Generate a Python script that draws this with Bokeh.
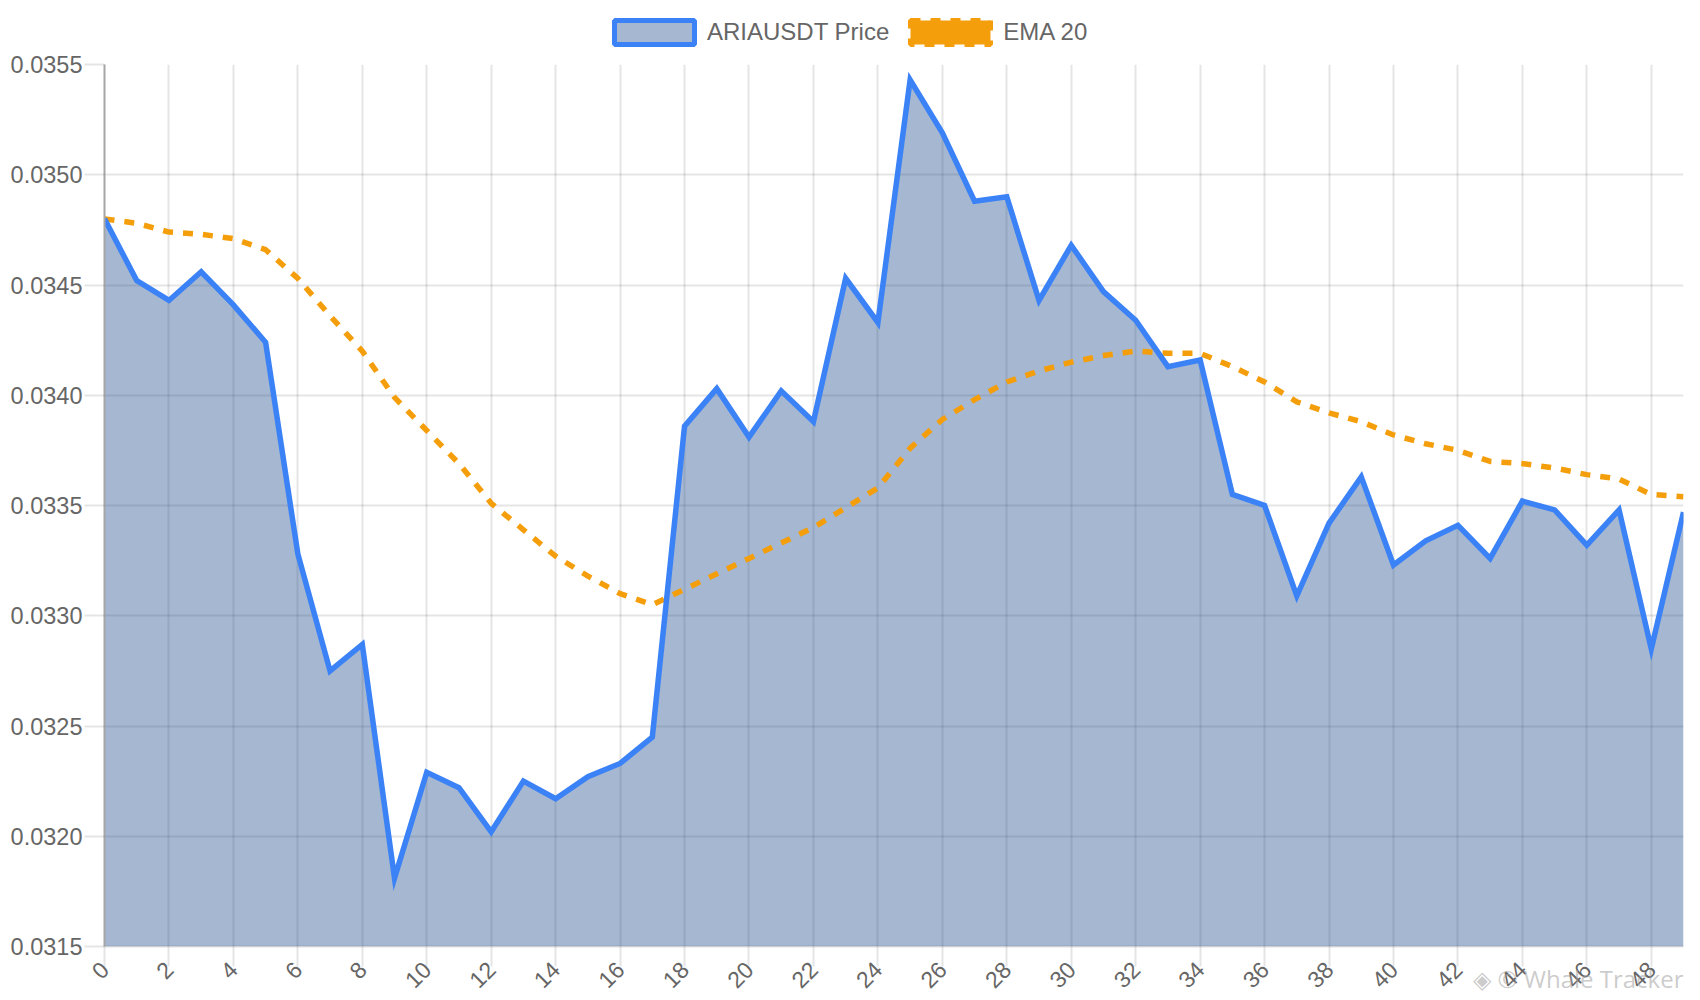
import math
from bokeh.plotting import figure
from bokeh.layouts import column
from bokeh.models import (Range1d, FixedTicker, PrintfTickFormatter, Legend, LegendItem,
                          ColumnDataSource, Title)
from bokeh.embed import file_html
from bokeh.resources import INLINE

# ---- data ----
INDEX = list(range(50))
PRICE = [0.03480, 0.03452, 0.03443, 0.03456, 0.03441, 0.03424, 0.03328, 0.03275, 0.03287, 0.03181,
         0.03229, 0.03222, 0.03202, 0.03225, 0.03217, 0.03227, 0.03233, 0.03245, 0.03386, 0.03403,
         0.03381, 0.03402, 0.03388, 0.03453, 0.03433, 0.03543, 0.03519, 0.03488, 0.03490, 0.03443,
         0.03468, 0.03447, 0.03434, 0.03413, 0.03416, 0.03355, 0.03350, 0.03309, 0.03342, 0.03363,
         0.03323, 0.03334, 0.03341, 0.03326, 0.03352, 0.03348, 0.03332, 0.03348, 0.03285, 0.03347]
EMA20 = [0.03480, 0.03478, 0.03474, 0.03473, 0.03471, 0.03466, 0.03453, 0.03436, 0.03420, 0.03399,
         0.03384, 0.03369, 0.03351, 0.03339, 0.03327, 0.03318, 0.03310, 0.03305, 0.03312, 0.03319,
         0.03326, 0.03333, 0.03340, 0.03349, 0.03358, 0.03376, 0.03389, 0.03398, 0.03406, 0.03411,
         0.03415, 0.03418, 0.03420, 0.03419, 0.03419, 0.03413, 0.03406, 0.03397, 0.03392, 0.03388,
         0.03382, 0.03378, 0.03375, 0.03370, 0.03369, 0.03367, 0.03364, 0.03362, 0.03355, 0.03354]
X_TICKS = [0, 2, 4, 6, 8, 10, 12, 14, 16, 18, 20, 22, 24, 26, 28, 30, 32, 34, 36, 38, 40, 42, 44, 46, 48]
Y_TICKS = [0.0315, 0.0320, 0.0325, 0.0330, 0.0335, 0.0340, 0.0345, 0.0350, 0.0355]
SERIES_NAMES = ["ARIAUSDT Price", "EMA 20"]
WATERMARK = "◈ © Whale Tracker"

# ---- style ----
FONT = "Liberation Sans"
TXT = "#666666"
BLUE = "#3b82f6"
ORANGE = "#f59e0b"
FILL = "#1e4b8c"
FILL_ALPHA = 0.4
LINE_W = 5.5
NAN = float("nan")

y_min, y_max = Y_TICKS[0], Y_TICKS[-1]

# ---------- legend strip (own small figure so nothing gets clipped) ----------
lg = figure(width=1700, height=52, x_range=Range1d(0, 1), y_range=Range1d(0, 1),
            x_axis_type=None, y_axis_type=None, output_backend="svg",
            toolbar_location=None, min_border=0)
lg.outline_line_color = None
lg.grid.visible = False
leg_price = lg.quad(left=[NAN], right=[NAN], top=[NAN], bottom=[NAN], fill_color=FILL,
                    fill_alpha=FILL_ALPHA, line_color=BLUE, line_width=5)
leg_ema = lg.quad(left=[NAN], right=[NAN], top=[NAN], bottom=[NAN], fill_color=ORANGE,
                  line_color=ORANGE, line_width=5, line_dash="10 10")
legend = Legend(items=[LegendItem(label=SERIES_NAMES[0], renderers=[leg_price]),
                       LegendItem(label=SERIES_NAMES[1], renderers=[leg_ema])],
                orientation="horizontal", location=(500, 5),
                glyph_width=100, glyph_height=30, label_height=30, label_standoff=3,
                spacing=11, padding=0, margin=0,
                border_line_color=None, background_fill_alpha=0,
                label_text_font=FONT, label_text_font_size="24px", label_text_color=TXT)
lg.add_layout(legend, "center")

# ---------- main chart ----------
p = figure(frame_width=1579, frame_height=882,
           x_range=Range1d(INDEX[0], INDEX[-1]), y_range=Range1d(y_min, y_max),
           output_backend="svg", toolbar_location=None,
           min_border_left=104, min_border_right=17, min_border_top=12, min_border_bottom=54)
p.outline_line_color = None
p.background_fill_color = "white"

src = ColumnDataSource(dict(x=INDEX, price=PRICE, ema=EMA20, base=[y_min] * len(INDEX)))

p.varea(x="x", y1="base", y2="price", source=src, fill_color=FILL, fill_alpha=FILL_ALPHA)
p.line(x="x", y="ema", source=src, line_color=ORANGE, line_width=LINE_W, line_dash="10 10")
p.line(x="x", y="price", source=src, line_color=BLUE, line_width=LINE_W, line_join="miter")

# grids
p.xgrid.ticker = FixedTicker(ticks=X_TICKS)
p.ygrid.ticker = FixedTicker(ticks=Y_TICKS)
for g in (p.xgrid, p.ygrid):
    g.grid_line_color = "black"
    g.grid_line_alpha = 0.1
    g.grid_line_width = 2

# axes
xa = p.xaxis[0]
xa.ticker = FixedTicker(ticks=X_TICKS)
xa.major_label_orientation = math.pi / 4
xa.minor_tick_line_color = None
xa.major_tick_in = 0
xa.major_tick_out = 20
xa.major_tick_line_color = "black"
xa.major_tick_line_alpha = 0.1
xa.major_tick_line_width = 2
xa.axis_line_color = "black"
xa.axis_line_alpha = 0.12
xa.axis_line_width = 2
xa.major_label_text_font = FONT
xa.major_label_text_font_size = "23px"
xa.major_label_text_color = TXT
xa.major_label_standoff = -1
# a 1px blank axis label with negative standoff shrinks the reserved axis band,
# so the watermark title below can sit inside the tick-label band like the reference
xa.axis_label = "\u00a0"
xa.axis_label_text_font_size = "1px"
xa.axis_label_text_alpha = 0
xa.axis_label_standoff = -43

# watermark at the bottom right
wm = Title(text=WATERMARK, align="right", standoff=0,
           text_font="Open Sans", text_font_style="normal", text_font_size="24px",
           text_color="#a0a0a0", text_alpha=0.55)
p.add_layout(wm, "below")

ya = p.yaxis[0]
ya.ticker = FixedTicker(ticks=Y_TICKS)
ya.formatter = PrintfTickFormatter(format="%.4f")
ya.minor_tick_line_color = None
ya.major_tick_in = 0
ya.major_tick_out = 20
ya.major_tick_line_color = "black"
ya.major_tick_line_alpha = 0.1
ya.major_tick_line_width = 2
ya.axis_line_color = "#a6a6a6"
ya.axis_line_width = 2
ya.major_label_text_font = FONT
ya.major_label_text_font_size = "23.5px"
ya.major_label_text_color = TXT
ya.major_label_standoff = 2

layout = column(lg, p, spacing=0)
open("out.html", "w").write(file_html(layout, INLINE))
